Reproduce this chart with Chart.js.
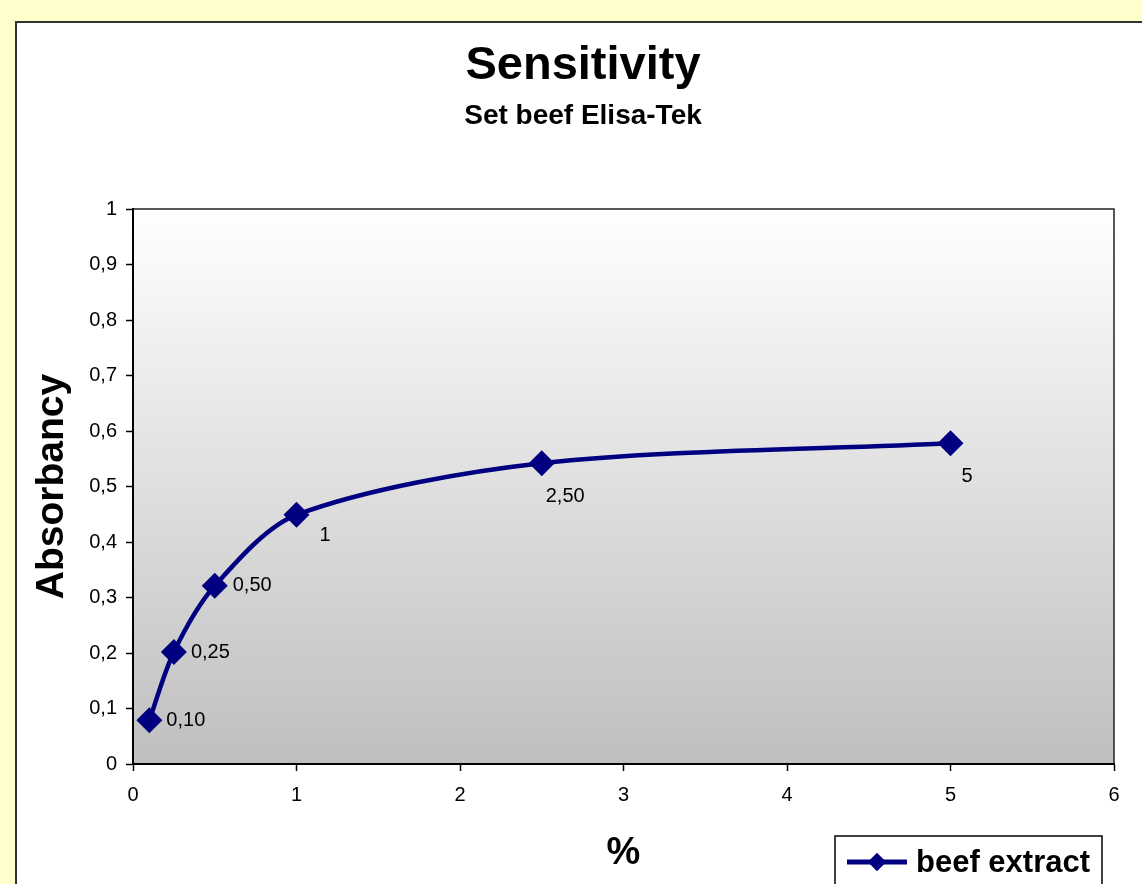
<!DOCTYPE html>
<html>
<head>
  <title>Sensitivity</title>
  <script src="https://cdn.jsdelivr.net/npm/chart.js@4.4.1/dist/chart.umd.min.js"></script>
  <style>
    body { margin: 0; background: #ffffcc; }
    canvas { display: block; }
  </style>
</head>
<body>
  <canvas id="myChart" width="1142" height="884"></canvas>

  <script>
    // data
    var concentrations = [0.1, 0.25, 0.5, 1, 2.5, 5];
    var absorbancy = [0.079, 0.202, 0.321, 0.449, 0.542, 0.578];
    var pointLabels = ['0,10', '0,25', '0,50', '1', '2,50', '5'];
    var seriesName = 'beef extract';

    var navy = '#000080';
    var font = 'Arial, "Liberation Sans", sans-serif';
    Chart.defaults.font.family = font;
    Chart.defaults.color = '#000';

    function comma(v) {
      return String(Math.round(v * 10) / 10).replace('.', ',');
    }

    // backgrounds: page frame, white chart box, grey gradient plot area
    var backdrop = {
      id: 'backdrop',
      beforeDraw: function(chart) {
        var c = chart.ctx, a = chart.chartArea;
        c.save();
        c.fillStyle = '#ffffcc';
        c.fillRect(0, 0, chart.width, chart.height);
        c.fillStyle = '#fff';
        c.fillRect(16, 22, chart.width, chart.height);
        c.strokeStyle = '#333';
        c.lineWidth = 2;
        c.strokeRect(16, 22, chart.width + 10, chart.height + 10);
        var g = c.createLinearGradient(0, a.top, 0, a.bottom);
        g.addColorStop(0, '#ffffff');
        g.addColorStop(1, '#bfbfbf');
        c.fillStyle = g;
        c.fillRect(a.left, a.top, a.right - a.left, a.bottom - a.top);
        c.strokeStyle = '#222';
        c.lineWidth = 1.5;
        c.strokeRect(a.left, a.top, a.right - a.left, a.bottom - a.top);
        c.restore();
      }
    };

    // value labels next to each marker
    var valueLabels = {
      id: 'valueLabels',
      afterDatasetsDraw: function(chart, args, opts) {
        var c = chart.ctx;
        var pts = chart.getDatasetMeta(0).data;
        c.save();
        c.font = '20px ' + font;
        c.fillStyle = '#000';
        c.textAlign = 'left';
        c.textBaseline = 'middle';
        pts.forEach(function(p, i) {
          var off = opts.offsets[i];
          c.fillText(pointLabels[i], p.x + off[0], p.y + off[1]);
        });
        c.restore();
      }
    };

    // excel style legend box, bottom right
    var boxLegend = {
      id: 'boxLegend',
      afterDraw: function(chart) {
        var c = chart.ctx, ds = chart.data.datasets[0];
        var x = 835, y = 836;
        c.save();
        c.fillStyle = '#fff';
        c.fillRect(x, y, 267, 60);
        c.strokeStyle = '#000';
        c.lineWidth = 1.5;
        c.strokeRect(x, y, 267, 60);
        c.strokeStyle = ds.borderColor;
        c.lineWidth = 5;
        c.beginPath();
        c.moveTo(x + 12, y + 26);
        c.lineTo(x + 72, y + 26);
        c.stroke();
        c.fillStyle = ds.borderColor;
        Chart.helpers.drawPoint(c, { pointStyle: 'rectRot', radius: 9, borderWidth: 0 }, x + 42, y + 26);
        c.fill();
        c.font = 'bold 31px ' + font;
        c.fillStyle = '#000';
        c.textBaseline = 'middle';
        c.fillText(ds.label, x + 81, y + 27);
        c.restore();
      }
    };

    var ctx = document.getElementById('myChart').getContext('2d');
    var chart = new Chart(ctx, {
      type: 'line',
      data: {
        datasets: [{
          label: seriesName,
          data: concentrations.map(function(x, i) { return { x: x, y: absorbancy[i] }; }),
          borderColor: navy,
          backgroundColor: navy,
          borderWidth: 4.5,
          tension: 0.3,
          pointStyle: 'rectRot',
          pointRadius: 13,
          pointBorderWidth: 0,
          pointHoverRadius: 13,
          fill: false
        }]
      },
      options: {
        responsive: false,
        animation: false,
        layout: { padding: { left: 52, right: 28, top: 0, bottom: 0 } },
        plugins: {
          legend: { display: false },
          tooltip: { enabled: false },
          title: {
            display: true,
            text: 'Sensitivity',
            font: { size: 47, weight: 'bold' },
            color: '#000',
            padding: { top: 38, bottom: 0 }
          },
          subtitle: {
            display: true,
            text: 'Set beef Elisa-Tek',
            font: { size: 28, weight: 'bold' },
            color: '#000',
            padding: { top: 5, bottom: 76 }
          },
          valueLabels: {
            offsets: [[17, 0], [17, 1], [18, 0], [23, 21], [4, 33], [11, 33]]
          }
        },
        scales: {
          x: {
            type: 'linear',
            min: 0,
            max: 6,
            afterFit: function(s) { s.height = 120; },
            ticks: { stepSize: 1, padding: 12, font: { size: 20 }, color: '#000' },
            grid: { drawOnChartArea: false, drawTicks: true, tickLength: 7, tickColor: '#000', tickWidth: 1.5 },
            border: { color: '#000', width: 2 },
            title: { display: true, text: '%', font: { size: 38, weight: 'bold' }, color: '#000', padding: { bottom: 8 } }
          },
          y: {
            min: 0,
            max: 1,
            afterFit: function(s) { s.width = 81; },
            ticks: { stepSize: 0.1, padding: 9, font: { size: 20 }, color: '#000', callback: comma },
            grid: { drawOnChartArea: false, drawTicks: true, tickLength: 7, tickColor: '#000', tickWidth: 1.5 },
            border: { color: '#000', width: 2 },
            title: { display: true, text: 'Absorbancy', font: { size: 39, weight: 'bold' }, color: '#000', padding: { top: -23 } }
          }
        }
      },
      plugins: [backdrop, valueLabels, boxLegend]
    });
  </script>
</body>
</html>
